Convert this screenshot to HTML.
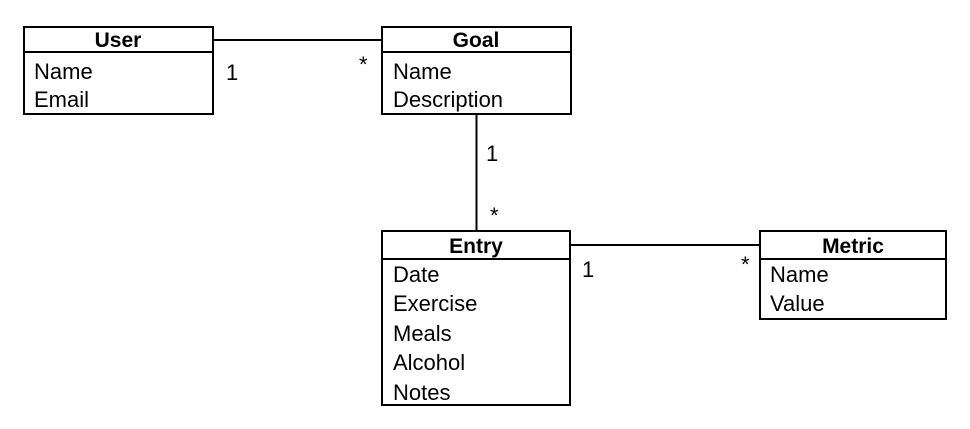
<!DOCTYPE html>
<html><head><meta charset="utf-8"><style>
html,body{margin:0;padding:0;background:#fff;}
svg{display:block;}
text{font-family:"Liberation Sans",Arial,sans-serif;font-size:22px;fill:#000;}
.h{font-weight:bold;text-anchor:middle;font-size:21px;}
</style></head><body>
<svg width="970" height="429" viewBox="0 0 970 429" xmlns="http://www.w3.org/2000/svg">
<g fill="none" stroke="#000" stroke-width="2">
<line x1="213" y1="40" x2="382" y2="40"/>
<line x1="476.5" y1="114" x2="476.5" y2="231"/>
<line x1="570" y1="245" x2="760" y2="245"/>
<rect x="24" y="27" width="189" height="87"/><line x1="24" y1="52" x2="213" y2="52"/>
<rect x="382" y="27" width="189" height="87"/><line x1="382" y1="52" x2="571" y2="52"/>
<rect x="382" y="231" width="188" height="174"/><line x1="382" y1="259" x2="570" y2="259"/>
<rect x="760" y="231" width="186" height="88"/><line x1="760" y1="259" x2="946" y2="259"/>
</g>
<text class="h" x="118" y="47">User</text>
<text x="34" y="79">Name</text><text x="34" y="107">Email</text>
<text class="h" x="476" y="47">Goal</text>
<text x="393" y="79">Name</text><text x="393" y="107">Description</text>
<text class="h" x="476" y="253">Entry</text>
<text x="393" y="282">Date</text><text x="393" y="311">Exercise</text><text x="393" y="341">Meals</text><text x="393" y="370">Alcohol</text><text x="393" y="400">Notes</text>
<text class="h" x="853" y="253">Metric</text>
<text x="770" y="282">Name</text><text x="770" y="311">Value</text>
<text x="226" y="80">1</text><text x="359" y="72">*</text>
<text x="486" y="161">1</text><text x="490" y="223">*</text>
<text x="582" y="277">1</text><text x="741" y="272">*</text>
</svg>
</body></html>
